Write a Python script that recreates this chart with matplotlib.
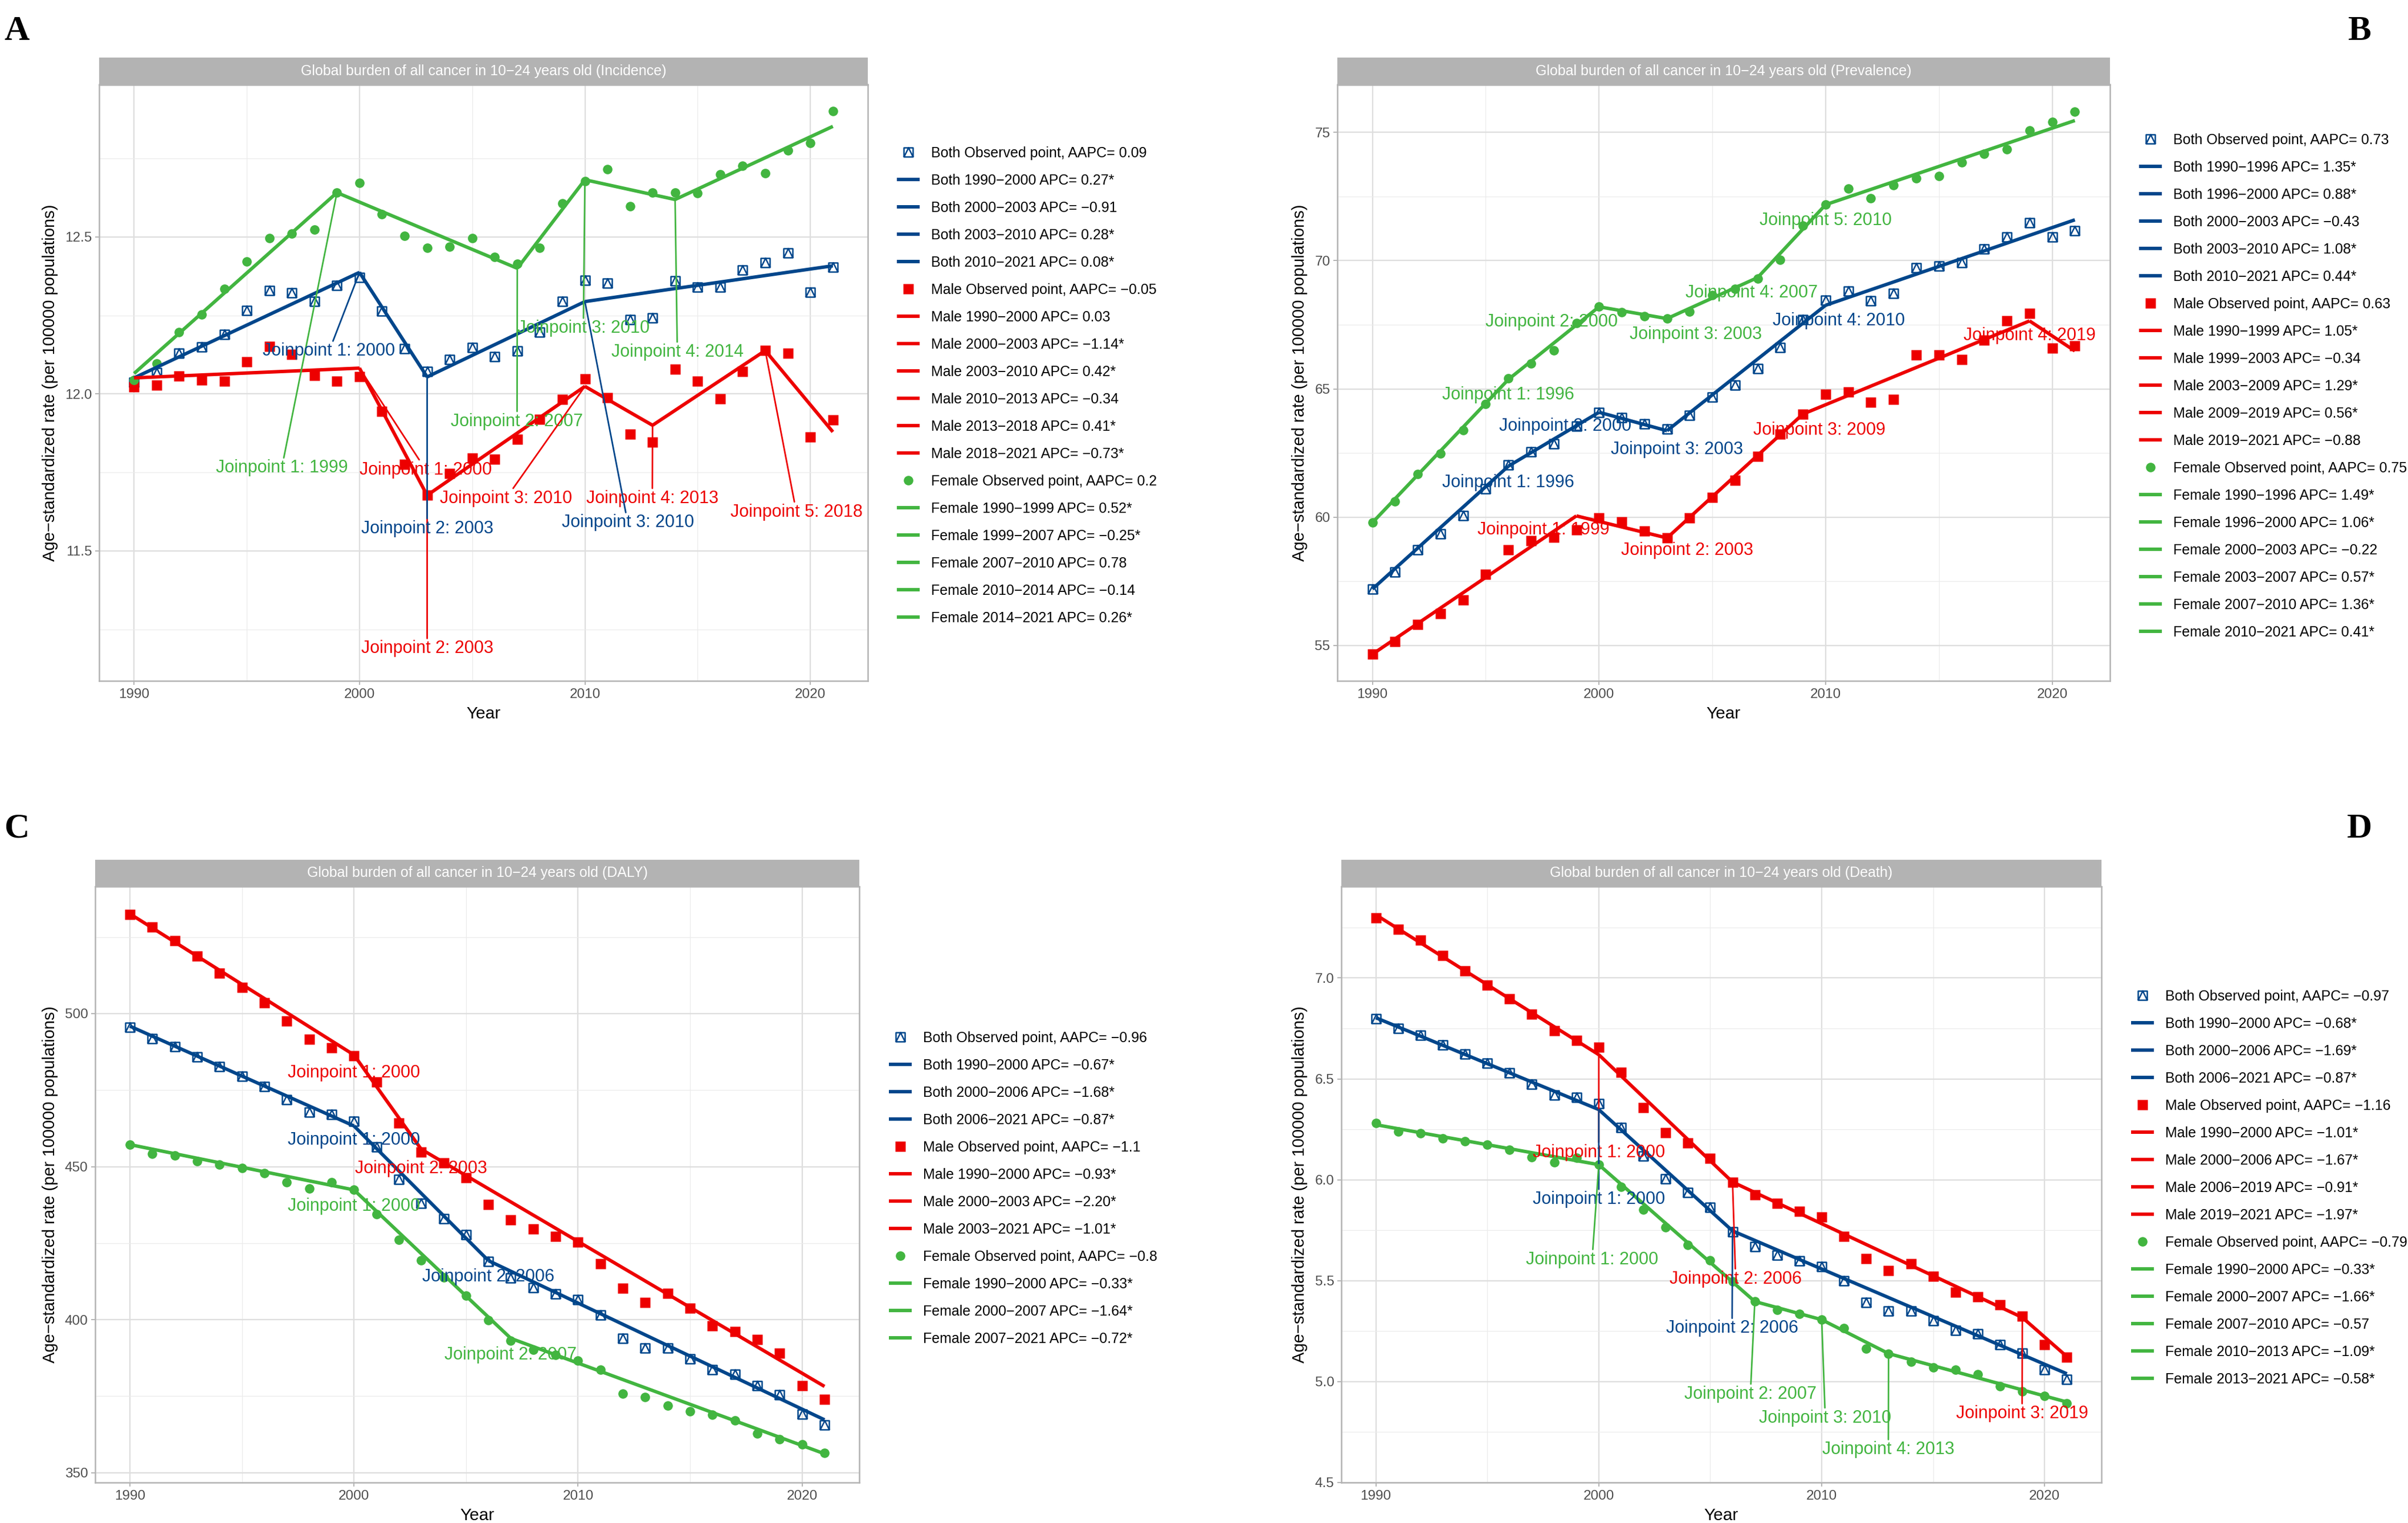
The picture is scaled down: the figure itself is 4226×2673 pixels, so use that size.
import numpy as np
import matplotlib
matplotlib.use("Agg")
import matplotlib.pyplot as plt
from matplotlib.path import Path

plt.rcParams['font.family'] = ['Liberation Sans', 'DejaVu Sans']

years = np.arange(1990, 2022)

# ---------------- A: incidence ----------------
inc_both = [12.037, 12.068, 12.130, 12.150, 12.190, 12.266, 12.329, 12.322, 12.295, 12.346,
            12.370, 12.263, 12.144, 12.072, 12.110, 12.148, 12.119, 12.137, 12.196, 12.295,
            12.362, 12.352, 12.236, 12.242, 12.359, 12.339, 12.339, 12.394, 12.418, 12.448,
            12.323, 12.403]
inc_male = [12.023, 12.027, 12.056, 12.044, 12.040, 12.103, 12.151, 12.126, 12.058, 12.041,
            12.055, 11.944, 11.775, 11.678, 11.747, 11.795, 11.792, 11.855, 11.919, 11.983,
            12.047, 11.987, 11.871, 11.846, 12.078, 12.041, 11.984, 12.071, 12.138, 12.130,
            11.863, 11.918]
inc_female = [12.044, 12.097, 12.196, 12.253, 12.335, 12.421, 12.496, 12.510, 12.523, 12.641,
              12.672, 12.573, 12.504, 12.465, 12.468, 12.496, 12.436, 12.415, 12.466, 12.606,
              12.677, 12.716, 12.597, 12.641, 12.641, 12.640, 12.699, 12.726, 12.702, 12.775,
              12.799, 12.901]
inc_both_jp = [1990, 2000, 2003, 2010, 2021]
inc_both_fit = [12.051, 12.387, 12.054, 12.294, 12.408]
inc_male_jp = [1990, 2000, 2003, 2010, 2013, 2018, 2021]
inc_male_fit = [12.051, 12.082, 11.677, 12.024, 11.900, 12.138, 11.879]
inc_female_jp = [1990, 1999, 2007, 2010, 2014, 2021]
inc_female_fit = [12.065, 12.641, 12.400, 12.682, 12.619, 12.852]
inc_aapc = ["0.09", "\u22120.05", "0.2"]
inc_both_apc = ["0.27*", "\u22120.91", "0.28*", "0.08*"]
inc_male_apc = ["0.03", "\u22121.14*", "0.42*", "\u22120.34", "0.41*", "\u22120.73*"]
inc_female_apc = ["0.52*", "\u22120.25*", "0.78", "\u22120.14", "0.26*"]

# ---------------- B: prevalence ----------------
prev_both = [57.20, 57.86, 58.72, 59.34, 60.07, 61.10, 62.04, 62.54, 62.85, 63.54,
             64.09, 63.89, 63.63, 63.44, 63.97, 64.68, 65.15, 65.80, 66.61, 67.69,
             68.45, 68.81, 68.43, 68.72, 69.71, 69.78, 69.93, 70.45, 70.93, 71.47,
             70.93, 71.17]
prev_male = [54.66, 55.16, 55.82, 56.25, 56.77, 57.77, 58.72, 59.08, 59.21, 59.50,
             59.97, 59.81, 59.45, 59.19, 59.97, 60.76, 61.43, 62.37, 63.23, 64.02,
             64.78, 64.89, 64.49, 64.58, 66.32, 66.32, 66.15, 66.89, 67.65, 67.94,
             66.60, 66.67]
prev_female = [59.79, 60.62, 61.68, 62.47, 63.39, 64.42, 65.41, 65.99, 66.51, 67.56,
               68.20, 67.98, 67.84, 67.74, 68.01, 68.65, 68.89, 69.29, 70.03, 71.36,
               72.18, 72.80, 72.44, 72.94, 73.20, 73.30, 73.82, 74.16, 74.33, 75.08,
               75.41, 75.80]
prev_both_jp = [1990, 1996, 2000, 2003, 2010, 2021]
prev_both_fit = [57.20, 61.99, 64.09, 63.37, 68.26, 71.59]
prev_male_jp = [1990, 1999, 2003, 2009, 2019, 2021]
prev_male_fit = [54.66, 60.05, 59.19, 64.02, 67.65, 66.48]
prev_female_jp = [1990, 1996, 2000, 2003, 2007, 2010, 2021]
prev_female_fit = [59.79, 65.37, 68.20, 67.74, 69.34, 72.18, 75.46]
prev_aapc = ["0.73", "0.63", "0.75"]
prev_both_apc = ["1.35*", "0.88*", "\u22120.43", "1.08*", "0.44*"]
prev_male_apc = ["1.05*", "\u22120.34", "1.29*", "0.56*", "\u22120.88"]
prev_female_apc = ["1.49*", "1.06*", "\u22120.22", "0.57*", "1.36*", "0.41*"]

# ---------------- C: DALY ----------------
daly_both = [495.5, 491.8, 489.2, 485.8, 482.7, 479.5, 476.2, 471.8, 467.8, 467.1,
             464.9, 456.5, 445.9, 438.0, 433.0, 427.8, 419.0, 413.6, 410.5, 408.5,
             406.5, 401.6, 393.8, 390.7, 390.7, 387.1, 383.7, 382.2, 378.5, 375.4,
             369.1, 365.6]
daly_male = [532.3, 528.3, 523.9, 518.8, 513.3, 508.5, 503.5, 497.6, 491.6, 488.8,
             486.3, 477.6, 464.2, 454.8, 451.3, 446.3, 437.7, 432.6, 429.7, 427.3,
             425.4, 418.3, 410.3, 405.7, 408.6, 403.7, 397.9, 396.2, 393.5, 389.0,
             378.5, 374.0]
daly_female = [457.2, 454.2, 453.7, 451.7, 450.7, 449.6, 447.9, 444.9, 442.9, 444.9,
               442.4, 434.4, 426.1, 419.4, 413.8, 407.9, 399.9, 393.2, 390.1, 388.5,
               386.7, 383.6, 375.9, 374.8, 372.0, 370.0, 369.0, 367.1, 362.9, 360.9,
               359.3, 356.5]
daly_both_jp = [1990, 2000, 2006, 2021]
daly_both_fit = [495.9, 463.3, 419.3, 367.3]
daly_male_jp = [1990, 2000, 2003, 2021]
daly_male_fit = [532.6, 486.5, 455.7, 378.2]
daly_female_jp = [1990, 2000, 2007, 2021]
daly_female_fit = [457.2, 442.4, 393.9, 356.2]
daly_aapc = ["\u22120.96", "\u22121.1", "\u22120.8"]
daly_both_apc = ["\u22120.67*", "\u22121.68*", "\u22120.87*"]
daly_male_apc = ["\u22120.93*", "\u22122.20*", "\u22121.01*"]
daly_female_apc = ["\u22120.33*", "\u22121.64*", "\u22120.72*"]

# ---------------- D: death ----------------
death_both = [6.798, 6.749, 6.717, 6.667, 6.622, 6.577, 6.530, 6.472, 6.421, 6.408,
              6.376, 6.258, 6.118, 6.006, 5.938, 5.863, 5.742, 5.670, 5.627, 5.597,
              5.569, 5.500, 5.393, 5.350, 5.350, 5.303, 5.253, 5.236, 5.182, 5.142,
              5.058, 5.011]
death_male = [7.298, 7.240, 7.187, 7.112, 7.036, 6.966, 6.897, 6.820, 6.738, 6.691,
              6.657, 6.534, 6.358, 6.234, 6.182, 6.107, 5.989, 5.925, 5.884, 5.845,
              5.815, 5.721, 5.609, 5.549, 5.584, 5.521, 5.444, 5.421, 5.382, 5.324,
              5.182, 5.120]
death_female = [6.281, 6.240, 6.230, 6.204, 6.191, 6.174, 6.150, 6.112, 6.086, 6.108,
                6.075, 5.966, 5.852, 5.764, 5.678, 5.601, 5.496, 5.397, 5.354, 5.337,
                5.307, 5.264, 5.163, 5.139, 5.099, 5.071, 5.060, 5.036, 4.976, 4.951,
                4.929, 4.893]
death_both_jp = [1990, 2000, 2006, 2021]
death_both_fit = [6.803, 6.348, 5.747, 5.039]
death_male_jp = [1990, 2000, 2006, 2019, 2021]
death_male_fit = [7.313, 6.620, 5.989, 5.318, 5.124]
death_female_jp = [1990, 2000, 2007, 2010, 2013, 2021]
death_female_fit = [6.273, 6.075, 5.397, 5.307, 5.139, 4.899]
death_aapc = ["\u22120.97", "\u22121.16", "\u22120.79"]
death_both_apc = ["\u22120.68*", "\u22121.69*", "\u22120.87*"]
death_male_apc = ["\u22121.01*", "\u22121.67*", "\u22120.91*", "\u22121.97*"]
death_female_apc = ["\u22120.33*", "\u22121.66*", "\u22120.57", "\u22121.09*", "\u22120.58*"]

# where the "Joinpoint k: year" labels sit (series index, joinpoint number, x, y)
inc_labels = [(2, 1, 1996.55, 11.764), (0, 1, 1998.65, 12.136), (1, 1, 2002.94, 11.758),
              (1, 2, 2003.0, 11.189), (0, 2, 2003.0, 11.571), (2, 2, 2006.99, 11.912),
              (2, 3, 2009.93, 12.209), (2, 4, 2014.1, 12.133), (1, 3, 2006.5, 11.667),
              (1, 4, 2012.99, 11.667), (0, 3, 2011.9, 11.59), (1, 5, 2019.38, 11.624)]
prev_labels = [(2, 1, 1996.0, 64.77), (2, 2, 1997.9, 67.6), (0, 2, 1998.5, 63.54),
               (0, 1, 1996.0, 61.35), (1, 1, 1997.54, 59.5), (2, 3, 2004.26, 67.13),
               (0, 3, 2003.43, 62.64), (1, 2, 2003.9, 58.7), (2, 4, 2006.74, 68.74),
               (2, 5, 2010.0, 71.57), (0, 4, 2010.58, 67.65), (1, 3, 2009.73, 63.4),
               (1, 4, 2019.0, 67.08)]
daly_labels = [(1, 1, 2000.0, 480.6), (0, 1, 2000.0, 458.6), (2, 1, 2000.0, 437.0),
               (1, 2, 2003.0, 449.4), (0, 2, 2006.0, 414.0), (2, 2, 2007.0, 388.5)]
death_labels = [(1, 1, 2000.0, 6.135), (0, 1, 2000.0, 5.903), (2, 1, 1999.7, 5.605),
                (1, 2, 2006.14, 5.509), (0, 2, 2005.98, 5.264), (2, 2, 2006.8, 4.938),
                (2, 3, 2010.16, 4.82), (2, 4, 2012.99, 4.663), (1, 3, 2018.99, 4.841)]

BLUE, RED, GREEN = "#00468B", "#ED0000", "#42B540"
W, H, DPI = 4226, 2673, 100
MINUS = "\u2212"

# square with a triangle inside (R pch 14)
sq_tri = Path([(-1, -1), (1, -1), (1, 1), (-1, 1), (-1, -1), (-1, -1), (0, 1), (1, -1)],
              [Path.MOVETO, Path.LINETO, Path.LINETO, Path.LINETO, Path.CLOSEPOLY,
               Path.MOVETO, Path.LINETO, Path.LINETO])

fig = plt.figure(figsize=(W / DPI, H / DPI), dpi=DPI)


def rect(x0, y0, x1, y1):
    return [x0 / W, 1 - y1 / H, (x1 - x0) / W, (y1 - y0) / H]


def panel(box, strip_top, title, ylim, yticks, yfmt, series, jp_labels, leaders,
          legend_at, spacing, ylab_x, letter, letter_xy):
    x0, y0, x1, y1 = box
    ax = fig.add_axes(rect(x0, y0, x1, y1))
    ax.set_xlim(1988.45, 2022.55)
    ax.set_ylim(*ylim)
    ax.set_xticks([1990, 2000, 2010, 2020])
    ax.set_xticks([1995, 2005, 2015], minor=True)
    ax.set_yticks(yticks)
    ax.set_yticklabels([yfmt.format(v) for v in yticks])
    step = yticks[1] - yticks[0]
    ax.set_yticks([v + step / 2 for v in [yticks[0] - step] + list(yticks)
                   if ylim[0] < v + step / 2 < ylim[1]], minor=True)
    ax.grid(which='major', color='#DEDEDE', lw=1.7)
    ax.grid(which='minor', color='#EBEBEB', lw=0.9)
    ax.set_axisbelow(True)
    ax.tick_params(which='minor', length=0)
    ax.tick_params(which='major', length=5, width=1.4, color='#B3B3B3',
                   labelsize=17.5, labelcolor='#4D4D4D', pad=4)
    for s in ax.spines.values():
        s.set_color('#B3B3B3')
        s.set_linewidth(1.8)

    handles, labels = [], []
    for name, color, marker, obs, jp, fit, aapc, apc in series:
        if marker == 'both':
            h, = ax.plot(years, obs, ls='none', marker=sq_tri, ms=11.5, mfc='none',
                         mec=color, mew=1.8, zorder=3)
        elif marker == 's':
            h, = ax.plot(years, obs, ls='none', marker='s', ms=12.5, color=color,
                         mec='none', zorder=3)
        else:
            h, = ax.plot(years, obs, ls='none', marker='o', ms=12, color=color,
                         mec='none', zorder=3)
        handles.append(h)
        labels.append(f"{name} Observed point, AAPC= {aapc}")
        for k in range(len(jp) - 1):
            ln, = ax.plot(jp[k:k + 2], fit[k:k + 2], color=color, lw=4.3,
                          solid_capstyle='butt', zorder=4)
            handles.append(ln)
            labels.append(f"{name} {jp[k]}{MINUS}{jp[k + 1]} APC= {apc[k]}")

    for si, k, tx, ty in jp_labels:
        name, color, marker, obs, jp, fit, aapc, apc = series[si]
        arrow = dict(arrowstyle='-', color=color, lw=2.0, shrinkA=0, shrinkB=0) if leaders else None
        ax.annotate(f"Joinpoint {k}: {jp[k]}", xy=(jp[k], fit[k]), xytext=(tx, ty),
                    textcoords='data', ha='center', va='center', color=color,
                    fontsize=22, arrowprops=arrow, zorder=6)

    ax.legend(handles, labels, loc='upper left',
              bbox_to_anchor=(legend_at[0] / W, 1 - legend_at[1] / H),
              bbox_transform=fig.transFigure, frameon=False, fontsize=18,
              handlelength=1.6, handletextpad=0.8, labelspacing=spacing,
              borderpad=0, borderaxespad=0)

    sax = fig.add_axes(rect(x0, strip_top, x1, y0))
    sax.set_facecolor('#B3B3B3')
    sax.set_xticks([])
    sax.set_yticks([])
    for s in sax.spines.values():
        s.set_visible(False)
    sax.text(0.5, 0.5, title, color='white', fontsize=18, ha='center', va='center',
             transform=sax.transAxes)

    fig.text(ylab_x / W, 1 - (y0 + y1) / 2 / H,
             f"Age{MINUS}standardized rate (per 100000 populations)",
             rotation=90, ha='center', va='center', fontsize=21, color='black')
    fig.text((x0 + x1) / 2 / W, 1 - (y1 + 58) / H, "Year", ha='center', va='center',
             fontsize=21.5, color='black')
    fig.text(letter_xy[0] / W, 1 - letter_xy[1] / H, letter, ha='center', va='center',
             fontsize=44, fontweight='bold', family=['Liberation Serif', 'DejaVu Serif'])
    return ax


title = "Global burden of all cancer in 10" + MINUS + "24 years old ({})"

panel((174, 148.5, 1523, 1195), 101, title.format("Incidence"), (11.086, 12.985),
      [11.5, 12.0, 12.5], "{:.1f}",
      [("Both", BLUE, 'both', inc_both, inc_both_jp, inc_both_fit, inc_aapc[0], inc_both_apc),
       ("Male", RED, 's', inc_male, inc_male_jp, inc_male_fit, inc_aapc[1], inc_male_apc),
       ("Female", GREEN, 'o', inc_female, inc_female_jp, inc_female_fit, inc_aapc[2], inc_female_apc)],
      inc_labels, True, (1574, 257), 0.96, 88, "A", (30, 55))

panel((2347, 148.5, 3703, 1195), 101, title.format("Prevalence"), (53.62, 76.86),
      [55, 60, 65, 70, 75], "{:.0f}",
      [("Both", BLUE, 'both', prev_both, prev_both_jp, prev_both_fit, prev_aapc[0], prev_both_apc),
       ("Male", RED, 's', prev_male, prev_male_jp, prev_male_fit, prev_aapc[1], prev_male_apc),
       ("Female", GREEN, 'o', prev_female, prev_female_jp, prev_female_fit, prev_aapc[2], prev_female_apc)],
      prev_labels, False, (3754, 234), 0.96, 2281, "B", (4141, 55))

panel((167, 1556, 1508, 2602), 1509, title.format("DALY"), (346.8, 541.5),
      [350, 400, 450, 500], "{:.0f}",
      [("Both", BLUE, 'both', daly_both, daly_both_jp, daly_both_fit, daly_aapc[0], daly_both_apc),
       ("Male", RED, 's', daly_male, daly_male_jp, daly_male_fit, daly_aapc[1], daly_male_apc),
       ("Female", GREEN, 'o', daly_female, daly_female_jp, daly_female_fit, daly_aapc[2], daly_female_apc)],
      daly_labels, False, (1560, 1810), 0.96, 88, "C", (30, 1455))

panel((2354, 1556, 3688, 2602), 1509, title.format("Death"), (4.5, 7.453),
      [4.5, 5.0, 5.5, 6.0, 6.5, 7.0], "{:.1f}",
      [("Both", BLUE, 'both', death_both, death_both_jp, death_both_fit, death_aapc[0], death_both_apc),
       ("Male", RED, 's', death_male, death_male_jp, death_male_fit, death_aapc[1], death_male_apc),
       ("Female", GREEN, 'o', death_female, death_female_jp, death_female_fit, death_aapc[2], death_female_apc)],
      death_labels, True, (3740, 1737), 0.96, 2281, "D", (4141, 1455))

fig.savefig("out.png", dpi=DPI, facecolor='white')
